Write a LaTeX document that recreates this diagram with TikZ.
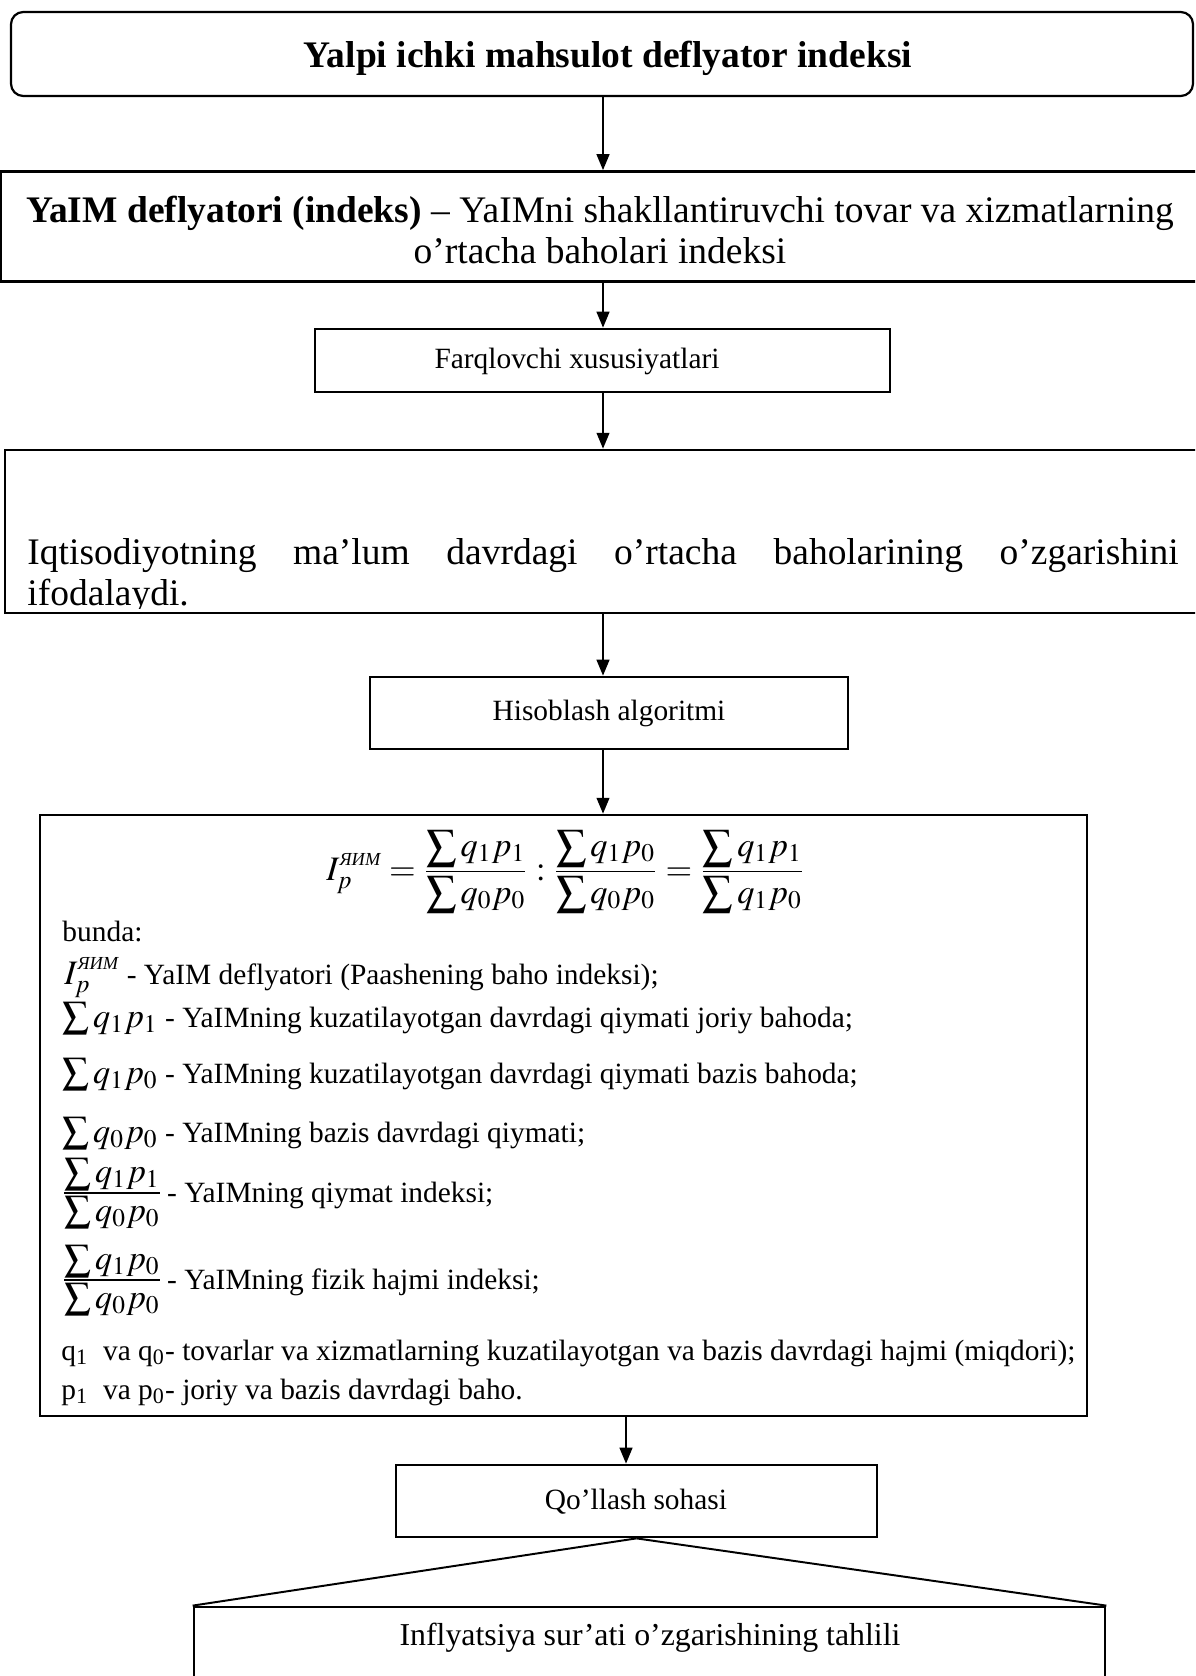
\documentclass[tikz,border=0pt]{standalone}
\usepackage{mathptmx}
\usepackage[no-math]{fontspec}
\usepackage{graphicx}
\setmainfont{Liberation Serif}
\usetikzlibrary{arrows.meta}
\newcommand{\bsum}{\mathop{\vcenter{\hbox{\scalebox{1.1}{$\sum$}}}}\nolimits}
\newcommand{\bsumA}{\mathop{\vcenter{\hbox{\scalebox{1.25}{$\sum$}}}}\nolimits}
\newcommand{\yim}{\mbox{\fontsize{7.5}{8}\selectfont\itshape ЯИМ}}
\newcommand{\mth}[1]{{\fontsize{14}{16}\selectfont$\displaystyle #1$}}
\newcommand{\sfr}[2]{\mathord{\vcenter{\offinterlineskip\halign{\hfil##\hfil\cr$\displaystyle#1$\cr\noalign{\kern0.8pt\hrule height0.5pt\kern1.2pt}$\displaystyle#2$\cr}}}}
\begin{document}
\begin{tikzpicture}[x=0.4082pt,y=-0.4082pt,
  boxst/.style={draw,line width=1.1pt,inner sep=0pt,rectangle},
  arr/.style={line width=0.8pt,-{Triangle[length=6.5pt,width=5.2pt]}},
  txt/.style={inner sep=0pt,font=\fontsize{12}{14}\selectfont},
  bigtxt/.style={inner sep=0pt,font=\fontsize{15.3}{17.1}\selectfont}]
\useasboundingbox (0,0) rectangle (1195,1676);
\fill[white] (0,0) rectangle (1195,1676);
\clip (0,0) rectangle (1195,1676);

% title
\node[boxst,line width=0.9pt,rounded corners=5pt,minimum width=482.5pt,minimum height=34.3pt] (title) at (602,54) {};
\node[inner sep=0pt,font=\fontsize{15.3}{17}\selectfont\bfseries,anchor=base] (titletxt) at (608,68) {Yalpi ichki mahsulot deflyator indeksi};

% definition
\node[boxst,minimum width=495.6pt,minimum height=44.9pt] (def) at (608,226.5) {};
\node[bigtxt,align=center] (deftxt) at (600,230) {\textbf{YaIM deflyatori (indeks)} – YaIMni shakllantiruvchi tovar va xizmatlarning\\o’rtacha baholari indeksi};

% features
\node[boxst,minimum width=234.7pt,minimum height=25.7pt] (farq) at (602.5,360.5) {};
\node[txt] (farqtxt) at (577,361) {Farqlovchi xususiyatlari};

% description
\node[boxst,minimum width=493.9pt,minimum height=66.5pt] (ifoda) at (610,531.5) {};
\begin{scope}
\clip (5,450) rectangle (1195,608);
\node[bigtxt,anchor=base west] (ifodaA) at (27,564) {\hbox to 469.9pt{Iqtisodiyotning\hfill ma’lum\hfill davrdagi\hfill o’rtacha\hfill baholarining\hfill o’zgarishini}};
\node[bigtxt,anchor=base west] (ifodaB) at (27,605) {ifodalaydi.};
\end{scope}

% algorithm
\node[boxst,minimum width=195.1pt,minimum height=29.4pt] (hisob) at (609,713) {};
\node[txt] (hisobtxt) at (609,713) {Hisoblash algoritmi};

% formula box
\node[boxst,minimum width=427.4pt,minimum height=245.3pt] (formbox) at (563.5,1115.5) {};
\node[txt,anchor=base west] (formula) at (326,880) {\mth{I_p^{\yim} = \frac{\bsumA q_1p_1}{\bsumA q_0p_0} : \frac{\bsumA q_1p_0}{\bsumA q_0p_0} = \frac{\bsumA q_1p_1}{\bsumA q_1p_0}}};
\node[txt,anchor=base west] (bunda) at (62,941) {bunda:};
\node[txt,anchor=base west] (lA) at (64,984) {\mth{I_p^{\yim}} - YaIM deflyatori (Paashening baho indeksi);};
\node[txt,anchor=base west] (lB) at (62,1027) {\mth{\bsum q_1p_1} - YaIMning kuzatilayotgan davrdagi qiymati joriy bahoda;};
\node[txt,anchor=base west] (lC) at (62,1083) {\mth{\bsum q_1p_0} - YaIMning kuzatilayotgan davrdagi qiymati bazis bahoda;};
\node[txt,anchor=base west] (lD) at (62,1142) {\mth{\bsum q_0p_0} - YaIMning bazis davrdagi qiymati;};
\node[txt,anchor=base west] (lE) at (64,1202) {\mth{\sfr{\bsum q_1p_1}{\bsum q_0p_0}} - YaIMning qiymat indeksi;};
\node[txt,anchor=base west] (lF) at (64,1289) {\mth{\sfr{\bsum q_1p_0}{\bsum q_0p_0}} - YaIMning fizik hajmi indeksi;};
\node[txt,anchor=base west] (lG) at (61,1360) {q\textsubscript{1}\ \ va q\textsubscript{0}- tovarlar va xizmatlarning kuzatilayotgan va bazis davrdagi hajmi (miqdori);};
\node[txt,anchor=base west] (lH) at (61,1399) {p\textsubscript{1}\ \ va p\textsubscript{0}- joriy va bazis davrdagi baho.};

% application
\node[boxst,minimum width=196.3pt,minimum height=29.4pt] (qol) at (636.5,1501) {};
\node[txt] (qoltxt) at (636,1502) {Qo’llash sohasi};
\node[boxst,minimum width=371.9pt,minimum height=38pt] (inf) at (649.5,1653.5) {};
\node[inner sep=0pt,font=\fontsize{13}{15}\selectfont] (inftxt) at (650,1638) {Inflyatsiya sur’ati o’zgarishining tahlili};

% connectors
\coordinate (ax) at (603,0);
\coordinate (bx) at (626,0);
\draw[arr] (title.south -| ax) -- (def.north -| ax);
\draw[arr] (def.south -| ax) -- (farq.north -| ax);
\draw[arr] (farq.south -| ax) -- (ifoda.north -| ax);
\draw[arr] (ifoda.south -| ax) -- (hisob.north -| ax);
\draw[arr] (hisob.south -| ax) -- (formbox.north -| ax);
\draw[arr] (formbox.south -| bx) -- (qol.north -| bx);
\draw[line width=0.8pt] (qol.south) -- (inf.north west);
\draw[line width=0.8pt] (qol.south) -- (inf.north east);
\end{tikzpicture}
\end{document}
